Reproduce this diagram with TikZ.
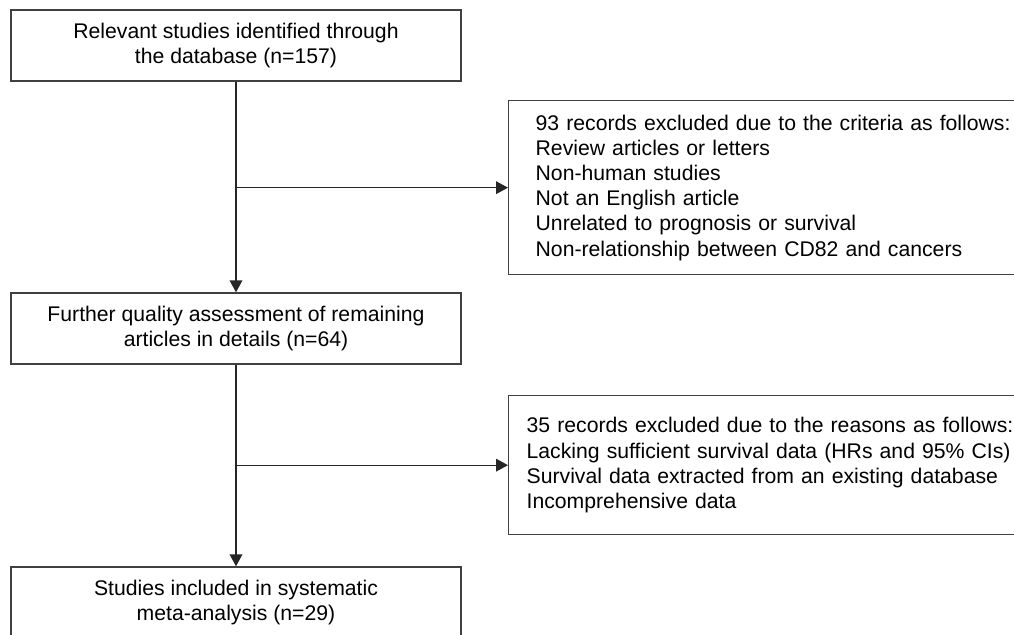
\documentclass[tikz,border=0pt]{standalone}
\usepackage{fontspec}
\setmainfont{Liberation Sans}
\usetikzlibrary{arrows.meta}
\newcommand{\boxwd}{337.5pt}
\newcommand{\boxht}{53.25pt}

\begin{document}
\begin{tikzpicture}[x=.75pt,y=-.75pt,
    font=\fontsize{15.9}{18.9}\selectfont,
    stepbox/.style={draw=black!75, line width=1pt, minimum width=\boxwd, minimum height=\boxht, align=center, inner sep=0pt},
    outbox/.style={draw=black!75, line width=1pt, anchor=north west, align=left, text width=372pt, inner ysep=0pt},
    flow/.style={draw=black!85, line width=1pt, -{Triangle[length=9pt,width=9.5pt]}}]
          %%  selection of the studies %%
      \clip (0,0) rectangle (1014,635);
      \node (s1) at (236,45.5)  [stepbox] {Relevant studies identified through\\the database (n=157)};
      \node (s2) at (236,328.5) [stepbox] {Further quality assessment of remaining\\articles in details (n=64)};
      \node (s3) at (236,602.5) [stepbox] {Studies included in systematic\\meta-analysis (n=29)};

      \node (ex1) at (508,100) [outbox, inner xsep=20.25pt, minimum height=130.5pt]
        {93 records excluded due to the criteria as follows:\\Review articles or letters\\Non-human studies\\Not an English article\\Unrelated to prognosis or survival\\Non-relationship between CD82 and cancers};
      \node (ex2) at (508,395) [outbox, inner xsep=13.5pt, minimum height=104.25pt]
        {35 records excluded due to the reasons as follows:\\Lacking sufficient survival data (HRs and 95\% CIs)\\Survival data extracted from an existing database\\Incomprehensive data\\[.6em]};

      \draw[flow] (s1) -- (s2);
      \draw[flow] (s2) -- (s3);
      \coordinate (b1) at (s1.south |- ex1.west);
      \coordinate (b2) at (s2.south |- ex2.west);
      \draw[flow] (b1) -- (ex1.west);
      \draw[flow] (b2) -- (ex2.west);
        \end{tikzpicture}
\end{document}
